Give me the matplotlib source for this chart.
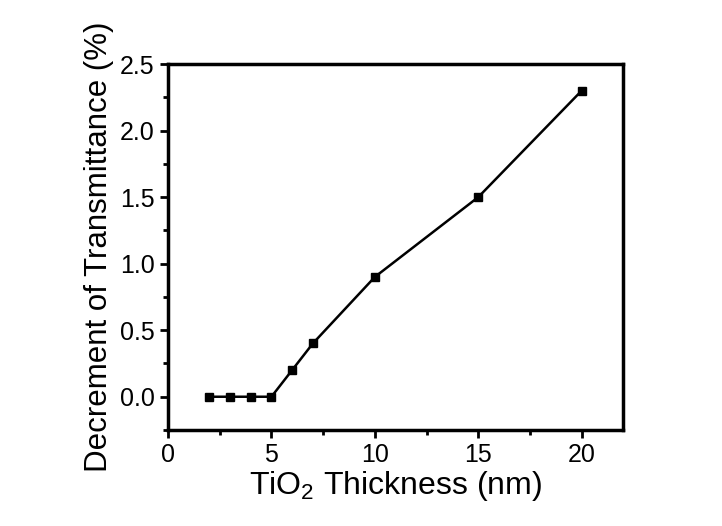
import matplotlib
matplotlib.use('Agg')
import matplotlib.pyplot as plt
from matplotlib.ticker import MultipleLocator

plt.rcParams['font.family'] = 'Liberation Sans'

thickness = [2, 3, 4, 5, 6, 7, 10, 15, 20]
decrement = [0, 0, 0, 0, 0.2, 0.4, 0.9, 1.5, 2.3]

fig = plt.figure(figsize=(7.22, 5.26), dpi=100)
ax = fig.add_axes([0.2327, 0.1825, 0.6303, 0.6958])

ax.plot(thickness, decrement, color='black', lw=1.8, marker='s', ms=6)

ax.set_xlim(0, 22)
ax.set_ylim(-0.25, 2.5)
ax.xaxis.set_major_locator(MultipleLocator(5))
ax.xaxis.set_minor_locator(MultipleLocator(2.5))
ax.yaxis.set_major_locator(MultipleLocator(0.5))
ax.yaxis.set_minor_locator(MultipleLocator(0.25))
ax.tick_params(which='both', direction='out', width=2, labelsize=18)
ax.tick_params(which='major', length=6)
ax.tick_params(which='minor', length=3.5)
for s in ax.spines.values():
    s.set_linewidth(2.5)

ax.set_xlabel('TiO$_\\mathregular{2}$ Thickness (nm)', fontsize=23, labelpad=1)
ax.set_ylabel('Decrement of Transmittance (%)', fontsize=22.5, labelpad=4)

fig.savefig('out.png', dpi=100)
